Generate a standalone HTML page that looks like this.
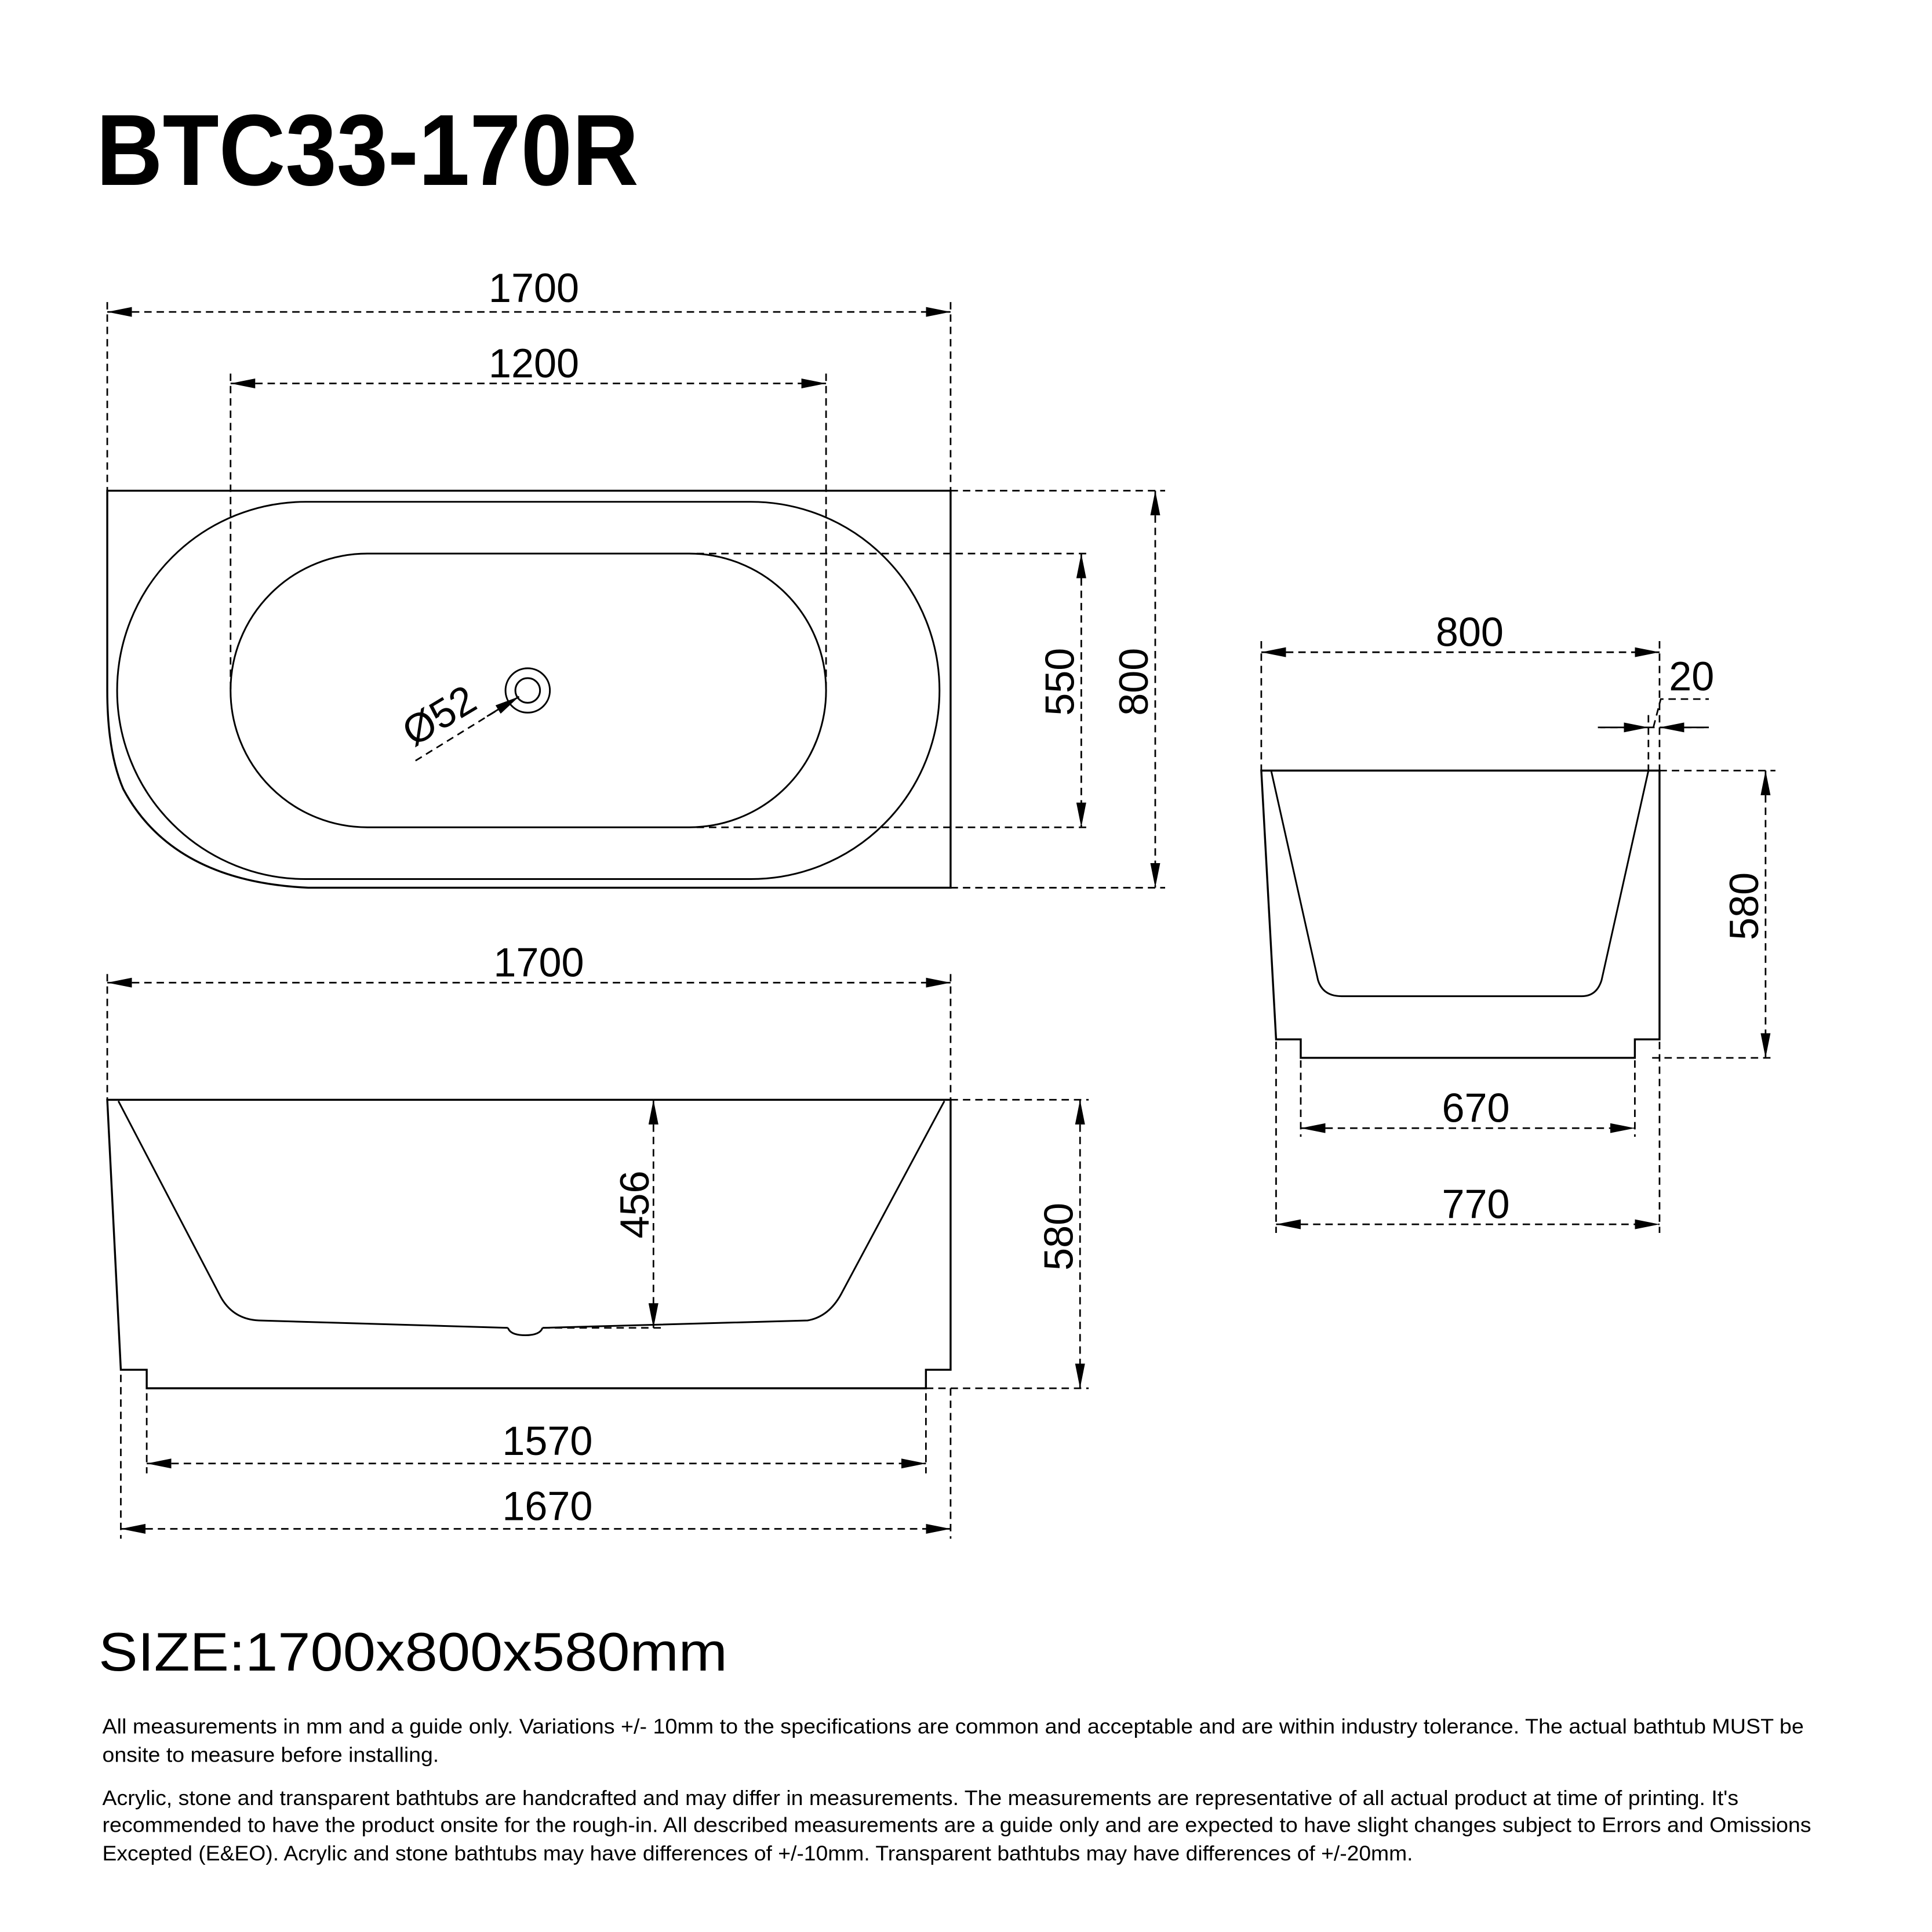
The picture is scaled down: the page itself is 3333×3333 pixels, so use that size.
<!DOCTYPE html>
<html><head><meta charset="utf-8"><style>
html,body{margin:0;padding:0;background:#fff}
svg{display:block}
text{font-family:"Liberation Sans",sans-serif;fill:#000}
</style></head><body>
<svg width="3333" height="3333" viewBox="0 0 1567 1567" xmlns="http://www.w3.org/2000/svg">
<defs>
<marker id="a" viewBox="0 0 20 8" refX="20" refY="4" markerWidth="20" markerHeight="8" markerUnits="userSpaceOnUse" orient="auto-start-reverse"><path d="M0,0 L20,4 L0,8 Z" fill="#000"/></marker>
</defs>
<text x="78" y="150" font-size="82" font-weight="bold" textLength="440" lengthAdjust="spacingAndGlyphs">BTC33-170R</text>

<g fill="none" stroke="#000" stroke-width="1.4">
<path d="M87,398 H771 V720 H250 Q140,715 100,640 Q87,610 87,560 Z" stroke-width="1.6"/>
<rect x="95" y="407" width="667" height="306" rx="153" ry="153"/>
<rect x="187" y="449" width="483" height="222" rx="111" ry="111"/>
<circle cx="428" cy="560" r="18"/><circle cx="428" cy="560" r="10"/>
<path d="M87,892 H771 V1111 H751 V1126 H119 V1111 H98 Z" stroke-width="1.6"/>
<path d="M96,893 L178,1050 Q188,1070 210,1071 L412,1077 M440,1077 L655,1071 Q672,1068 682,1050 L766,893"/>
<path d="M412,1077 Q414,1083 426,1083 Q438,1083 440,1077"/>
<path d="M1023,625 H1346 V843 H1326 V858 H1055 V843 H1035 Z" stroke-width="1.6"/>
<path d="M1031,625 L1069,795 Q1073,808 1088,808 H1283 Q1295,808 1299,795 L1337,625"/>
</g>

<g fill="none" stroke="#000" stroke-width="1.3" stroke-dasharray="6 4">
<line x1="87" y1="245" x2="87" y2="398"/><line x1="771" y1="245" x2="771" y2="398"/>
<line x1="187" y1="303" x2="187" y2="560"/><line x1="670" y1="303" x2="670" y2="560"/>
<line x1="771" y1="398" x2="945" y2="398"/><line x1="771" y1="720" x2="945" y2="720"/>
<line x1="565" y1="449" x2="885" y2="449"/><line x1="565" y1="671" x2="885" y2="671"/>
<line x1="337" y1="617" x2="405" y2="575"/>
<line x1="87" y1="790" x2="87" y2="892"/><line x1="771" y1="790" x2="771" y2="892"/>
<line x1="771" y1="892" x2="883" y2="892"/><line x1="751" y1="1126" x2="883" y2="1126"/>
<line x1="440" y1="1077" x2="540" y2="1077"/>
<line x1="119" y1="1130" x2="119" y2="1195"/><line x1="751" y1="1130" x2="751" y2="1195"/>
<line x1="98" y1="1115" x2="98" y2="1248"/><line x1="771" y1="1126" x2="771" y2="1248"/>
<line x1="1023" y1="520" x2="1023" y2="625"/><line x1="1346" y1="520" x2="1346" y2="625"/>
<line x1="1337" y1="580" x2="1337" y2="625"/>
<line x1="1296" y1="590" x2="1386" y2="590"/>
<path d="M1341,590 L1347,567 H1386"/>
<line x1="1346" y1="625" x2="1440" y2="625"/><line x1="1340" y1="858" x2="1440" y2="858"/>
<line x1="1055" y1="860" x2="1055" y2="922"/><line x1="1326" y1="860" x2="1326" y2="922"/>
<line x1="1035" y1="845" x2="1035" y2="1000"/><line x1="1346" y1="845" x2="1346" y2="1000"/>
</g>

<g fill="none" stroke="#000" stroke-width="1.3" stroke-dasharray="6 4" marker-start="url(#a)" marker-end="url(#a)">
<line x1="87" y1="253" x2="771" y2="253"/>
<line x1="187" y1="311" x2="670" y2="311"/>
<line x1="937" y1="398" x2="937" y2="720"/>
<line x1="877" y1="449" x2="877" y2="671"/>
<line x1="87" y1="797" x2="771" y2="797"/>
<line x1="530" y1="892" x2="530" y2="1077"/>
<line x1="876" y1="892" x2="876" y2="1126"/>
<line x1="119" y1="1187" x2="751" y2="1187"/>
<line x1="98" y1="1240" x2="771" y2="1240"/>
<line x1="1023" y1="529" x2="1346" y2="529"/>
<line x1="1432" y1="625" x2="1432" y2="858"/>
<line x1="1055" y1="915" x2="1326" y2="915"/>
<line x1="1035" y1="993" x2="1346" y2="993"/>
</g>
<g fill="none" stroke="#000" stroke-width="1.3" marker-end="url(#a)">
<line x1="395" y1="581" x2="421" y2="565"/>
<line x1="1298" y1="590" x2="1337" y2="590"/>
<line x1="1386" y1="590" x2="1346" y2="590"/>
</g>

<g font-size="33" text-anchor="middle">
<text x="433" y="245">1700</text>
<text x="433" y="306">1200</text>
<text x="437" y="792">1700</text>
<text x="444" y="1180">1570</text>
<text x="444" y="1233">1670</text>
<text x="1192" y="524">800</text>
<text x="1372" y="560">20</text>
<text x="1197" y="910">670</text>
<text x="1197" y="988">770</text>
<text transform="translate(931,553) rotate(-90)">800</text>
<text transform="translate(871,553) rotate(-90)">550</text>
<text transform="translate(526,977) rotate(-90)">456</text>
<text transform="translate(870,1003) rotate(-90)">580</text>
<text transform="translate(1426,735) rotate(-90)">580</text>
<text transform="translate(362,590) rotate(-31)">Ø52</text>
</g>

<text x="80" y="1355" font-size="44" textLength="510" lengthAdjust="spacingAndGlyphs">SIZE:1700x800x580mm</text>
<g font-size="17" fill="#222">
<text x="83" y="1406" textLength="1380" lengthAdjust="spacingAndGlyphs">All measurements in mm and a guide only. Variations +/- 10mm to the specifications are common and acceptable and are within industry tolerance. The actual bathtub MUST be</text>
<text x="83" y="1429" textLength="273" lengthAdjust="spacingAndGlyphs">onsite to measure before installing.</text>
<text x="83" y="1464" textLength="1327" lengthAdjust="spacingAndGlyphs">Acrylic, stone and transparent bathtubs are handcrafted and may differ in measurements. The measurements are representative of all actual product at time of printing. It's</text>
<text x="83" y="1486" textLength="1386" lengthAdjust="spacingAndGlyphs">recommended to have the product onsite for the rough-in. All described measurements are a guide only and are expected to have slight changes subject to Errors and Omissions</text>
<text x="83" y="1509" textLength="1063" lengthAdjust="spacingAndGlyphs">Excepted (E&amp;EO). Acrylic and stone bathtubs may have differences of +/-10mm. Transparent bathtubs may have differences of +/-20mm.</text>
</g>
</svg>
</body></html>
